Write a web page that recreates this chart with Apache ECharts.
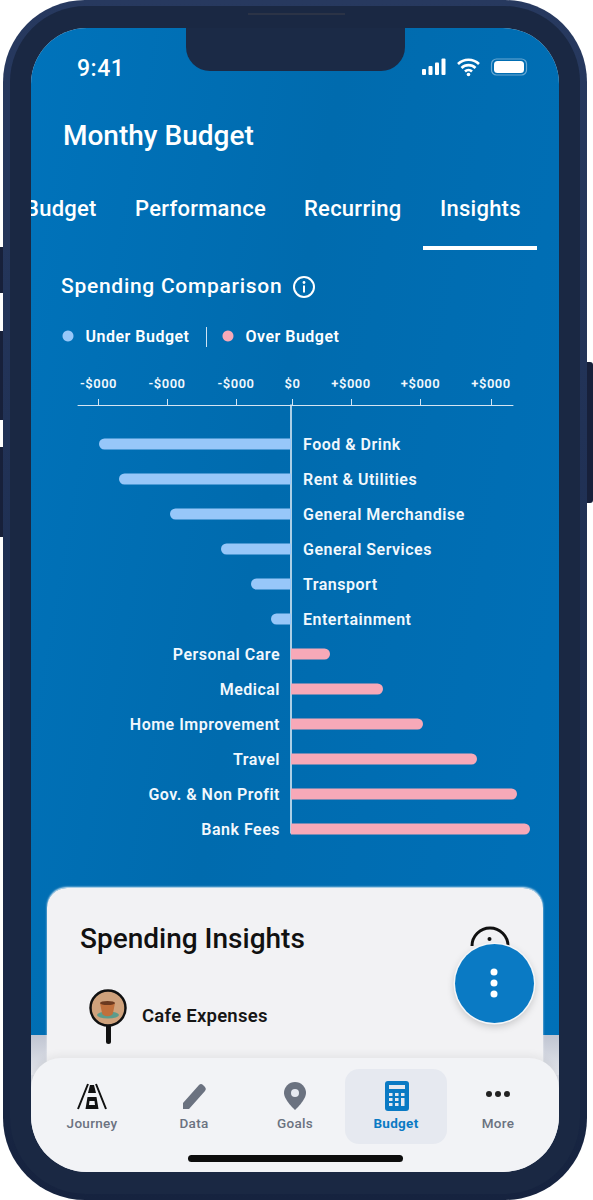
<!DOCTYPE html>
<html><head><meta charset="utf-8">
<script src="https://cdn.jsdelivr.net/npm/echarts@6/dist/echarts.min.js"></script>
<style>
html,body{margin:0;padding:0;background:#fff;width:593px;height:1200px;overflow:hidden;font-family:Roboto,sans-serif}
.abs,.abs *{position:absolute}
.t{white-space:nowrap;line-height:1;color:#fff;font-weight:500}
#phone{left:3px;top:0;width:584px;height:1200px;border-radius:82px;background:linear-gradient(180deg,#27395f 0,#1d2d50 60%,#16233f 100%)}
#bezel{left:7px;top:6px;width:570px;height:1188px;border-radius:76px;background:#1a2843}
.btn{background:#17203a}
#screen{left:31px;top:28px;width:528px;height:1144px;border-radius:56px;overflow:hidden;background:#d9dce4}
#blue{left:0;top:0;width:528px;height:1007px;background:linear-gradient(100deg,#0073bb 0,#006bae 45%,#0070b8 100%)}
#grey{left:0;top:1007px;width:528px;height:40px;background:linear-gradient(180deg,#c0c5d2,#e4e6ec)}
#card{left:16px;top:860px;width:496px;height:240px;border-radius:20px;background:linear-gradient(180deg,#f2f2f4 0,#f2f2f4 72%,#e3e3e6 82%);box-shadow:0 -1px 2px rgba(255,255,255,.9)}
#nav{left:0;top:1030px;width:528px;height:114px;border-radius:30px 30px 0 0;background:#f2f3f6;box-shadow:0 -3px 8px rgba(0,0,0,.06)}
#hl{left:314px;top:11px;width:102px;height:75px;border-radius:14px;background:#e6e9f0}
#home{left:157px;top:97px;width:215px;height:7px;border-radius:4px;background:#0d0d0d}
#notch{left:155px;top:0;width:219px;height:43px;border-radius:0 0 24px 24px;background:#1b2a46}
#fab{left:455px;top:944px;width:79px;height:79px;border-radius:50%;background:#0a7ac4;box-shadow:0 0 0 1.5px #f4f6f8,0 3px 8px rgba(0,0,0,.22)}
.nl{top:1117px;font-size:13.5px;letter-spacing:.3px;color:#6b7280;transform:translateX(-50%)}
#chart{left:0;top:0;width:593px;height:1200px}
#chart text{letter-spacing:.5px}
</style></head>
<body>
<div class="abs" style="left:0;top:0;width:593px;height:1200px">
  <div class="btn" style="left:0;top:247px;width:4px;height:46px"></div>
  <div class="btn" style="left:0;top:331px;width:4px;height:89px"></div>
  <div class="btn" style="left:0;top:447px;width:4px;height:90px"></div>
  <div class="btn" style="left:586px;top:362px;width:7px;height:141px;border-radius:0 3px 3px 0"></div>
  <div id="phone"><div id="bezel"></div></div>
  <div style="left:248px;top:13px;width:97px;height:2px;background:#2b3346"></div>
  <div id="screen">
    <div id="blue"></div><div id="grey"></div><div id="card"></div>
    <div id="nav"><div id="hl"></div><div id="home"></div></div>
    <div id="notch"></div>
  </div>
  <div class="t" style="left:77px;top:57px;font-size:23px;letter-spacing:.5px">9:41</div>
  <svg style="left:420px;top:54px" width="110" height="26" viewBox="0 0 110 26">
    <rect x="2" y="15" width="4" height="6" rx="1" fill="#fff"/><rect x="8.5" y="12" width="4" height="9" rx="1" fill="#fff"/><rect x="15" y="8.5" width="4" height="12.5" rx="1" fill="#fff"/><rect x="21.5" y="4.5" width="4" height="16.5" rx="1" fill="#fff"/>
    <path d="M38 10a15 15 0 0 1 21 0M41.5 14a10 10 0 0 1 14 0M45 17.5a5 5 0 0 1 7 0" fill="none" stroke="#fff" stroke-width="2.6"/><circle cx="48.5" cy="20.5" r="1.8" fill="#fff"/>
    <rect x="71.5" y="5" width="35" height="16" rx="5" fill="none" stroke="#cfe3f3" stroke-opacity=".5" stroke-width="1.2"/><rect x="74" y="7" width="30" height="12" rx="3.5" fill="#fff"/>
  </svg>
  <div class="t" style="left:63px;top:122px;font-size:28px">Monthy Budget</div>
  <div style="left:31px;top:190px;width:70px;height:40px;overflow:hidden"><div class="t" style="left:-6px;top:8px;font-size:22px;letter-spacing:.25px">Budget</div></div>
  <div class="t" style="left:135px;top:198px;font-size:22px;letter-spacing:.25px">Performance</div>
  <div class="t" style="left:304px;top:198px;font-size:22px;letter-spacing:.25px">Recurring</div>
  <div class="t" style="left:440px;top:198px;font-size:22px;letter-spacing:.25px">Insights</div>
  <div style="left:423px;top:246px;width:114px;height:4px;background:#fff"></div>
  <div class="t" style="left:61px;top:276px;font-size:21px;letter-spacing:.72px">Spending Comparison</div>
  <svg style="left:292px;top:275px" width="24" height="24" viewBox="0 0 24 24"><circle cx="12" cy="12" r="10" fill="none" stroke="#fff" stroke-width="2"/><rect x="11" y="10.5" width="2" height="7" fill="#fff"/><circle cx="12" cy="7.5" r="1.4" fill="#fff"/></svg>
  <div style="left:206px;top:327px;width:1px;height:20px;background:#cfe3f3"></div>
  <div id="chart"></div>
  <div class="t" style="left:80px;top:925px;font-size:28px;color:#111">Spending Insights</div>
  <svg style="left:470px;top:924px" width="40" height="30" viewBox="0 0 40 30"><path d="M2 22a18 18 0 0 1 36 0" fill="none" stroke="#111" stroke-width="3"/><circle cx="19.5" cy="15" r="2" fill="#111"/></svg>
  <svg style="left:88px;top:988px" width="40" height="58" viewBox="0 0 40 58">
    <rect x="18" y="34" width="5" height="22" rx="2.5" fill="#111"/>
    <circle cx="20" cy="20" r="17.5" fill="#cfa27c" stroke="#111" stroke-width="2.5"/>
    <ellipse cx="20" cy="27" rx="11" ry="3.5" fill="#5c9c8c"/><path d="M12 15h15l-2 10a5 3 0 0 1-11 0z" fill="#c0703c"/><ellipse cx="19.5" cy="15" rx="7.5" ry="2" fill="#6b3a20"/>
  </svg>
  <div class="t" style="left:142px;top:1007px;font-size:18.5px;font-weight:600;color:#161616;letter-spacing:.25px">Cafe Expenses</div>
  <div id="fab"></div>
  <svg style="left:488px;top:967px" width="12" height="32" viewBox="0 0 12 32"><circle cx="6" cy="5" r="3.5" fill="#fff"/><circle cx="6" cy="16" r="3.5" fill="#fff"/><circle cx="6" cy="27" r="3.5" fill="#fff"/></svg>
  <svg style="left:76px;top:1081px" width="32" height="30" viewBox="0 0 32 30"><path d="M2 28 12 3M30 28 20 3" stroke="#111" stroke-width="2" fill="none"/><path d="M14 4h4l2 8h-8zM11.5 16h9l2 12H9.5z" fill="#111"/><path d="M13.5 20h5l.5 4h-6z" fill="#f2f3f6"/></svg>
  <svg style="left:180px;top:1081px" width="28" height="30" viewBox="0 0 28 30"><path d="M3 28v-6L19 4a3 3 0 0 1 4 0l2 2a3 3 0 0 1 0 4L9 28z" fill="#6b7280"/></svg>
  <svg style="left:282px;top:1081px" width="26" height="30" viewBox="0 0 26 30"><path d="M13 1a11 11 0 0 0-11 11c0 7 11 17 11 17s11-10 11-17A11 11 0 0 0 13 1z" fill="#6b7280"/><circle cx="13" cy="12" r="4" fill="#e6e9f0"/></svg>
  <svg style="left:384px;top:1081px" width="26" height="30" viewBox="0 0 26 30"><rect x="1" y="0" width="24" height="30" rx="3" fill="#0a7ac4"/><rect x="5" y="4" width="16" height="4" fill="#e6e9f0"/><g fill="#e6e9f0"><rect x="5" y="12" width="3.5" height="3"/><rect x="11" y="12" width="3.5" height="3"/><rect x="17" y="12" width="3.5" height="3"/><rect x="5" y="17" width="3.5" height="3"/><rect x="11" y="17" width="3.5" height="3"/><rect x="17" y="17" width="3.5" height="8"/><rect x="5" y="22" width="3.5" height="3"/><rect x="11" y="22" width="3.5" height="3"/></g></svg>
  <svg style="left:484px;top:1089px" width="28" height="10" viewBox="0 0 28 10"><circle cx="5" cy="5" r="3" fill="#222"/><circle cx="14" cy="5" r="3" fill="#222"/><circle cx="23" cy="5" r="3" fill="#222"/></svg>
  <div class="t nl" style="left:92px">Journey</div><div class="t nl" style="left:194px">Data</div><div class="t nl" style="left:295px">Goals</div><div class="t nl" style="left:396px;color:#0a7ac4;font-weight:700">Budget</div><div class="t nl" style="left:498px">More</div>
</div>
<script>
const categories = ['Food & Drink','Rent & Utilities','General Merchandise','General Services','Transport','Entertainment','Personal Care','Medical','Home Improvement','Travel','Gov. & Non Profit','Bank Fees'];
const underBudget = [-192,-172,-121,-70,-40,-20,null,null,null,null,null,null];
const overBudget = [null,null,null,null,null,null,39,92,132,186,226,239];
const tickValues = [-192.5,-124,-55,1.5,60,129.5,200];
const tickLabels = ['-$000','-$000','-$000','$0','+$000','+$000','+$000'];
const axisMin = -213, axisMax = 222;

const chart = echarts.init(document.getElementById('chart'), null, {renderer:'svg'});
const labelStyle = {show:true,color:'#f2f8fd',fontFamily:'Roboto',fontSize:16,fontWeight:600,
  formatter:p=>p.name};
chart.setOption({
  backgroundColor:'transparent',
  animation:false,
  legend:{left:62.5,top:328,padding:0,itemWidth:11,itemHeight:11,itemGap:39,icon:'circle',
    textStyle:{color:'#fff',fontFamily:'Roboto',fontSize:16,fontWeight:600,padding:[0,0,0,7]},
    data:['Under Budget','Over Budget'],selectedMode:false},
  grid:[
    {left:78,width:435,top:405,height:428},
    {left:78,width:435,top:426.5,height:420}
  ],
  xAxis:[
    {gridIndex:0,type:'value',position:'top',min:axisMin,max:axisMax,splitLine:{show:false},
     axisLine:{show:true,onZero:false,lineStyle:{color:'#d5e5f3',width:1}},
     axisTick:{show:true,length:6,customValues:tickValues,lineStyle:{color:'#d5e5f3',width:1}},
     axisLabel:{show:true,customValues:tickValues,margin:15,color:'#f2f8fd',fontFamily:'Roboto',fontSize:13,fontWeight:600,
       formatter:v=>tickLabels[tickValues.indexOf(v)]}},
    {gridIndex:1,type:'value',min:axisMin,max:axisMax,show:false}
  ],
  yAxis:[
    {gridIndex:0,type:'value',min:0,max:1,axisLabel:{show:false},axisTick:{show:false},splitLine:{show:false},
     axisLine:{show:true,onZero:true,lineStyle:{color:'#e6f0f8',width:1.5}}},
    {gridIndex:1,type:'category',inverse:true,data:categories,axisLine:{show:false},axisTick:{show:false},axisLabel:{show:false}}
  ],
  series:[
    {name:'Under Budget',type:'bar',xAxisIndex:1,yAxisIndex:1,stack:'b',barWidth:11,clip:false,data:underBudget,
     itemStyle:{color:'#97c7f9',borderRadius:[5.5,0,0,5.5]},label:Object.assign({},labelStyle,{position:'right',distance:12})},
    {name:'Over Budget',type:'bar',xAxisIndex:1,yAxisIndex:1,stack:'b',barWidth:11,clip:false,data:overBudget,
     itemStyle:{color:'#f7a9b8',borderRadius:[0,5.5,5.5,0]},label:Object.assign({},labelStyle,{position:'left',distance:11})}
  ]
});
</script>
</body></html>
